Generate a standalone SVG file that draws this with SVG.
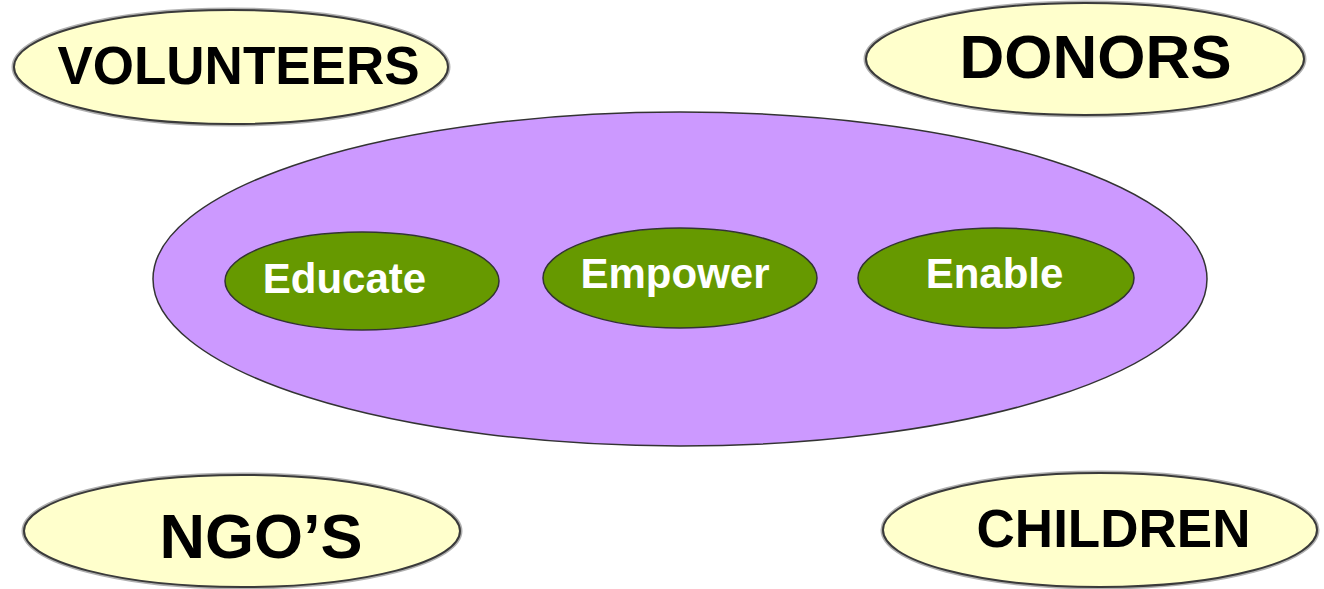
<svg xmlns="http://www.w3.org/2000/svg" width="1324" height="589" viewBox="0 0 1324 589">
<style>
.halo{fill:none;stroke:#b0b0b0;stroke-width:5}
.outer{fill:#ffffcc;stroke:#3a3a3a;stroke-width:2}
.outer-t{font-family:"Liberation Sans",Arial,sans-serif;font-weight:bold;fill:#000;text-anchor:middle}
.inner{fill:#669900;stroke:#333;stroke-width:1.5}
.inner-t{font-family:"Liberation Sans",Arial,sans-serif;font-weight:bold;font-size:42px;fill:#fff;text-anchor:middle}
</style>
<rect width="1324" height="589" fill="#fff"/>
<g id="hub">
<ellipse cx="680" cy="279" rx="527" ry="167" fill="#cc99ff" stroke="#333" stroke-width="1.5"/>
</g>
<g id="educate">
<ellipse class="inner" cx="362" cy="281" rx="137" ry="49"/>
<text class="inner-t" x="344.5" y="293">Educate</text>
</g>
<g id="empower">
<ellipse class="inner" cx="680" cy="278" rx="137" ry="50"/>
<text class="inner-t" x="675" y="288">Empower</text>
</g>
<g id="enable">
<ellipse class="inner" cx="996" cy="278" rx="138" ry="50"/>
<text class="inner-t" x="994.5" y="288">Enable</text>
</g>
<g id="volunteers">
<ellipse class="halo" cx="231" cy="67" rx="217" ry="57"/>
<ellipse class="outer" cx="231" cy="67" rx="217" ry="57"/>
<text class="outer-t" x="238.5" y="84" font-size="53">VOLUNTEERS</text>
</g>
<g id="donors">
<ellipse class="halo" cx="1085" cy="59" rx="219" ry="56"/>
<ellipse class="outer" cx="1085" cy="59" rx="219" ry="56"/>
<text class="outer-t" x="1095.5" y="78" font-size="62">DONORS</text>
</g>
<g id="ngos">
<ellipse class="halo" cx="242" cy="531" rx="218" ry="56"/>
<ellipse class="outer" cx="242" cy="531" rx="218" ry="56"/>
<text class="outer-t" x="261" y="558" font-size="63">NGO’S</text>
</g>
<g id="children">
<ellipse class="halo" cx="1100" cy="530" rx="217" ry="57"/>
<ellipse class="outer" cx="1100" cy="530" rx="217" ry="57"/>
<text class="outer-t" x="1113.5" y="547" font-size="53">CHILDREN</text>
</g>
<g id="connectors"/>
</svg>
